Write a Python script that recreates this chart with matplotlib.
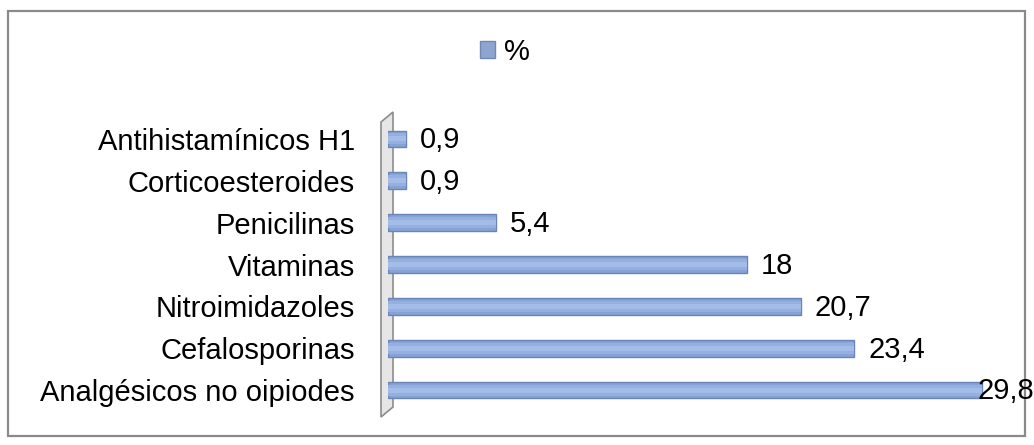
import matplotlib.pyplot as plt
from matplotlib.patches import Polygon, Rectangle, Patch

categorias = ['Analgésicos no oipiodes', 'Cefalosporinas', 'Nitroimidazoles',
              'Vitaminas', 'Penicilinas', 'Corticoesteroides', 'Antihistamínicos H1']
porcentaje = [29.8, 23.4, 20.7, 18, 5.4, 0.9, 0.9]
etiquetas = ['29,8', '23,4', '20,7', '18', '5,4', '0,9', '0,9']

W, H = 1034, 445
plt.rcParams['font.family'] = ['Liberation Sans', 'DejaVu Sans']

fig = plt.figure(figsize=(W / 100, H / 100), dpi=100)

# marco exterior del grafico
fig.patches.append(Rectangle((8 / W, 9 / H), 1017 / W, 425 / H, transform=fig.transFigure,
                             fill=False, edgecolor='#8a8a8a', linewidth=1.6))

# pared lateral (efecto 3D)
pared = [(381, 122), (393, 112), (393, 407), (381, 417)]
fig.patches.append(Polygon([(x / W, 1 - y / H) for x, y in pared], closed=True,
                           transform=fig.transFigure, facecolor='#e6e6e6',
                           edgecolor='#8c8c8c', linewidth=1.2, zorder=1))

ax = fig.add_axes([388 / W, 34 / H, 598 / W, 293 / H], zorder=2)
ax.patch.set_alpha(0)
pos = list(range(len(categorias)))

# barras con sombreado tipo cilindro
ax.barh(pos, porcentaje, height=0.4, color='#87a3d6', edgecolor='#6a84b6', linewidth=1.0)
ax.barh(pos, porcentaje, height=0.26, color='#95b0e0', linewidth=0)
ax.barh(pos, porcentaje, height=0.12, color='#a3bce8', linewidth=0)

vmax = max(porcentaje)
for p, v, t in zip(pos, porcentaje, etiquetas):
    dx = -3 if v == vmax else 10
    ax.annotate(t, (v, p), xytext=(dx, -1), textcoords='offset points',
                va='center', ha='left', fontsize=21, color='black')

ax.set_xlim(0, 30)
ax.set_ylim(-0.5, 6.5)
ax.set_yticks(pos)
ax.set_yticklabels(categorias, fontsize=21)
ax.tick_params(axis='y', length=0, pad=24)
ax.set_xticks([])
for s in ax.spines.values():
    s.set_visible(False)

fig.legend(handles=[Patch(facecolor='#8fa5cf', edgecolor='#7088b5', label='%')],
           loc='center', bbox_to_anchor=(505 / W, 1 - 52 / H), frameon=False,
           fontsize=21, handlelength=0.5, handleheight=0.5, handletextpad=0.3)

fig.savefig('out.png', dpi=100)
